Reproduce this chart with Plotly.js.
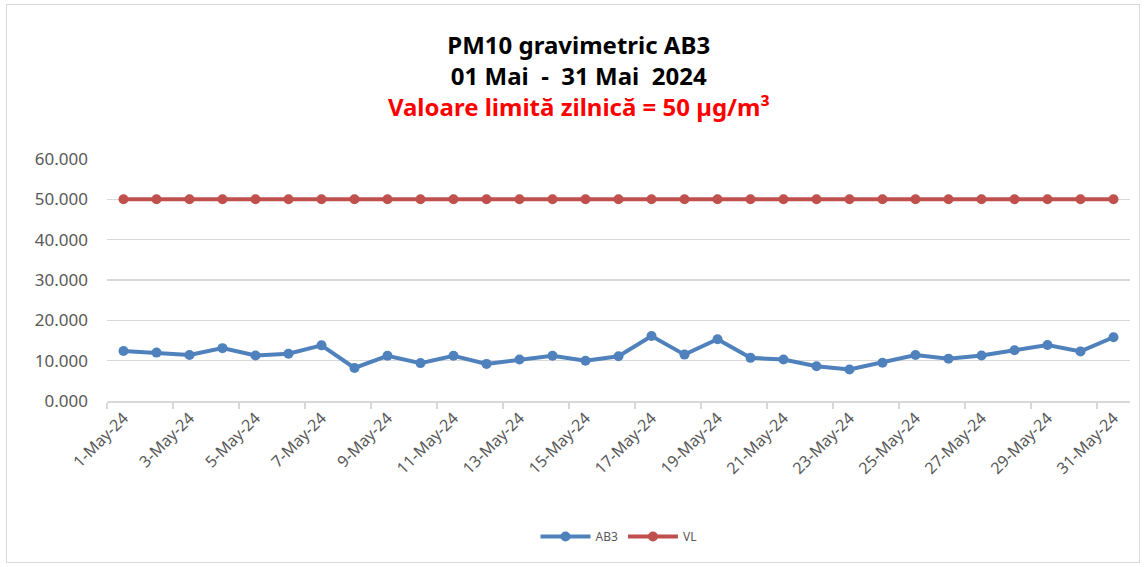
<!DOCTYPE html>
<html>
<head>
<meta charset="utf-8">
<script src="https://cdn.plot.ly/plotly-3.0.1.min.js"></script>
<style>
html,body{margin:0;padding:0;background:#fff;}
#wrap{position:absolute;left:6px;top:4px;width:1132px;height:557px;border:1px solid #d9d9d9;}
#chart{position:absolute;left:0;top:0;width:1146px;height:567px;}
</style>
</head>
<body>
<div id="wrap"></div>
<div id="chart"></div>
<script>
const days = ["1-May-24","2-May-24","3-May-24","4-May-24","5-May-24","6-May-24","7-May-24","8-May-24","9-May-24","10-May-24",
"11-May-24","12-May-24","13-May-24","14-May-24","15-May-24","16-May-24","17-May-24","18-May-24","19-May-24","20-May-24",
"21-May-24","22-May-24","23-May-24","24-May-24","25-May-24","26-May-24","27-May-24","28-May-24","29-May-24","30-May-24","31-May-24"];
const ab3 = [12.4,12.0,11.4,13.1,11.3,11.7,13.8,8.2,11.2,9.4,
11.2,9.2,10.3,11.2,10.0,11.1,16.1,11.5,15.3,10.7,
10.3,8.6,7.8,9.5,11.4,10.5,11.3,12.6,13.9,12.3,15.8];
const vl = [50,50,50,50,50,50,50,50,50,50,50,50,50,50,50,50,50,50,50,50,50,50,50,50,50,50,50,50,50,50,50];

const traces = [
  {x: days, y: ab3, name: "AB3", type: "scatter", mode: "lines+markers",
   line: {color: "#4f81bd", width: 4}, marker: {color: "#4f81bd", size: 10}},
  {x: days, y: vl, name: "VL", type: "scatter", mode: "lines+markers",
   line: {color: "#c0504d", width: 4}, marker: {color: "#c0504d", size: 10}}
];

const layout = {
  width: 1146, height: 567,
  paper_bgcolor: "rgba(0,0,0,0)", plot_bgcolor: "rgba(0,0,0,0)",
  margin: {l: 107, r: 16, t: 159, b: 166},
  font: {family: "Noto Sans, sans-serif", color: "#595959"},
  title: {
    text: "<b>PM10 gravimetric AB3<br>01 Mai  -  31 Mai  2024<br><span style='color:#ff0000'>Valoare limită zilnică = 50 µg/m³</span></b>",
    font: {family: "Noto Sans, sans-serif", size: 24, color: "#000"},
    x: 0.505, xanchor: "center", y: 0.905, yanchor: "top", yref: "container"
  },
  xaxis: {
    type: "category", tickson: "boundaries", dtick: 2, tickangle: -45,
    ticks: "outside", ticklen: 6, tickcolor: "#d9d9d9", tickwidth: 1.5,
    showline: true, linecolor: "#d9d9d9", linewidth: 1.5,
    showgrid: false, tickfont: {size: 16, color: "#595959"},
    range: [-0.5, 30.5], fixedrange: true
  },
  yaxis: {
    range: [0, 60], dtick: 10, tickformat: ".3f",
    showgrid: true, gridcolor: "#d9d9d9", gridwidth: 1.5,
    zeroline: false, showline: false, ticks: "",
    tickfont: {size: 17, color: "#595959"}, ticklabelstandoff: 18
  },
  showlegend: true,
  legend: {orientation: "h", x: 0.5, xanchor: "center", y: -0.56, yanchor: "middle",
           font: {size: 12, color: "#595959"}, itemwidth: 50}
};
Plotly.newPlot("chart", traces, layout, {displayModeBar: false, staticPlot: true});
</script>
</body>
</html>
